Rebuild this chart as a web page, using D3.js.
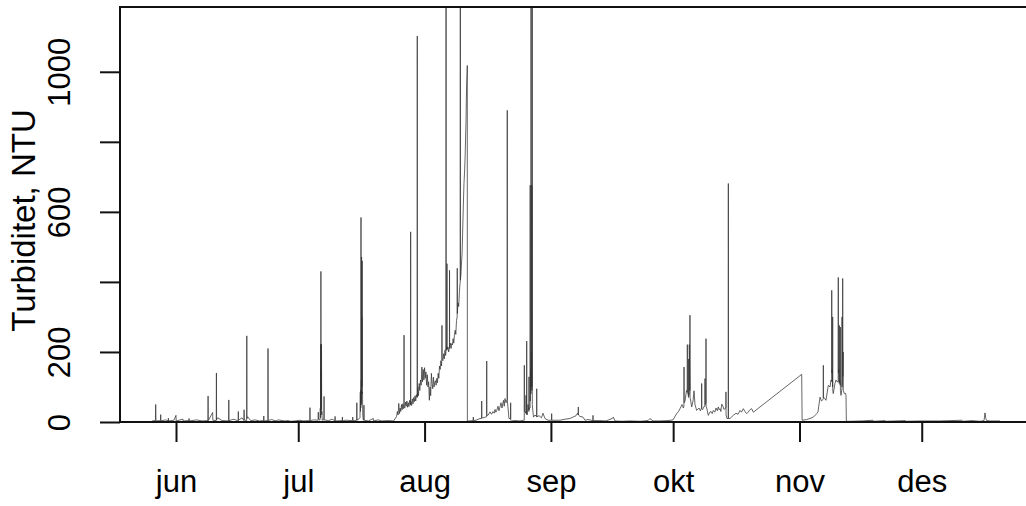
<!DOCTYPE html>
<html>
<head>
<meta charset="utf-8">
<script src="https://cdn.jsdelivr.net/npm/d3@7"></script>
<style>
  body { margin: 0; background: #fff; }
  svg { display: block; }
  text { font-family: "Liberation Sans", Arial, Helvetica, sans-serif; fill: #000; }
</style>
</head>
<body>
<svg id="chart" width="1026" height="506"></svg>
<script>
// Turbidity logger readings (NTU), timestamps as "MM-DD HH:MM"
const year = 2019;

const readingsMayJun = [
  ["05-26 02:00", 3], ["05-26 23:00", 4], ["05-27 00:30", 50], ["05-27 02:00", 3],
  ["05-28 05:00", 4], ["05-28 06:00", 21], ["05-28 07:00", 3], ["05-29 10:00", 6],
  ["05-30 02:00", 3], ["05-30 03:00", 11], ["05-30 04:00", 3], ["05-31 12:00", 5],
  ["06-01 00:00", 19], ["06-01 01:00", 3], ["06-02 17:00", 8], ["06-02 18:00", 3],
  ["06-04 04:00", 4], ["06-04 05:00", 10], ["06-04 06:00", 3], ["06-06 02:00", 6],
  ["06-07 09:00", 3], ["06-08 20:00", 4], ["06-08 21:00", 74], ["06-08 22:00", 4],
  ["06-10 00:00", 27], ["06-10 01:00", 5], ["06-10 21:00", 4], ["06-10 22:00", 140],
  ["06-10 23:00", 6], ["06-11 06:00", 12], ["06-12 07:00", 4], ["06-13 22:00", 3],
  ["06-13 23:00", 63], ["06-14 00:00", 4], ["06-15 05:00", 8], ["06-16 06:00", 3],
  ["06-16 07:00", 30], ["06-16 08:00", 5], ["06-17 05:00", 12], ["06-17 16:00", 4],
  ["06-17 17:00", 35], ["06-17 18:00", 6], ["06-18 08:00", 4], ["06-18 09:00", 246],
  ["06-18 10:00", 10], ["06-18 14:00", 15], ["06-19 08:00", 4], ["06-20 09:00", 6],
  ["06-21 12:00", 3], ["06-22 12:00", 4], ["06-22 13:00", 17], ["06-22 14:00", 3],
  ["06-23 13:00", 4], ["06-23 14:00", 210], ["06-23 15:00", 4], ["06-24 10:00", 7],
  ["06-25 13:00", 3], ["06-26 02:00", 6], ["06-27 16:00", 3], ["06-28 12:00", 4],
  ["06-29 04:00", 2], ["06-30 05:00", 3]
];

const readingsJul = [
  ["07-01 10:00", 5], ["07-02 04:00", 3], ["07-03 20:00", 4], ["07-03 21:00", 41],
  ["07-03 22:00", 4], ["07-04 20:00", 6], ["07-05 21:00", 5], ["07-05 22:00", 28],
  ["07-05 23:00", 8], ["07-06 08:00", 5], ["07-06 10:00", 40], ["07-06 11:00", 12],
  ["07-06 12:00", 222], ["07-06 13:00", 30], ["07-06 13:30", 430], ["07-06 14:00", 40],
  ["07-06 15:00", 150], ["07-06 16:00", 35], ["07-06 17:00", 222], ["07-06 18:00", 20],
  ["07-06 19:00", 30], ["07-06 21:00", 5], ["07-07 07:00", 6], ["07-07 08:00", 73],
  ["07-07 09:00", 6], ["07-08 12:00", 4], ["07-09 06:00", 8], ["07-10 00:00", 4],
  ["07-10 01:00", 16], ["07-10 02:00", 3], ["07-11 19:00", 4], ["07-11 20:00", 14],
  ["07-11 21:00", 3], ["07-12 15:00", 5], ["07-14 08:00", 4], ["07-14 09:00", 14],
  ["07-14 10:00", 3], ["07-15 08:00", 5], ["07-15 09:00", 55], ["07-15 10:00", 5],
  ["07-16 00:00", 10], ["07-16 03:30", 12], ["07-16 05:30", 85], ["07-16 06:30", 30],
  ["07-16 07:00", 90], ["07-16 08:00", 40], ["07-16 09:00", 45], ["07-16 09:30", 584],
  ["07-16 10:00", 60], ["07-16 11:30", 120], ["07-16 12:30", 50], ["07-16 13:00", 471],
  ["07-16 14:00", 80], ["07-16 15:00", 300], ["07-16 15:30", 100], ["07-16 16:30", 460],
  ["07-16 17:30", 80], ["07-16 18:30", 85], ["07-16 20:00", 20], ["07-16 23:00", 5],
  ["07-17 02:00", 6], ["07-17 03:00", 48], ["07-17 04:00", 5], ["07-18 06:00", 3],
  ["07-19 10:00", 10], ["07-19 11:00", 3], ["07-20 14:00", 6], ["07-21 12:00", 3],
  ["07-23 00:00", 4], ["07-24 10:00", 3], ["07-25 03:00", 16], ["07-25 08:00", 30],
  ["07-25 12:00", 20], ["07-25 16:00", 53], ["07-25 20:00", 24],
  ["07-26 00:00", 40], ["07-26 04:00", 30], ["07-26 08:00", 50], ["07-26 12:00", 35],
  ["07-26 16:00", 52], ["07-26 20:00", 38], ["07-26 22:30", 40], ["07-26 23:00", 248],
  ["07-26 23:30", 42], ["07-27 04:00", 40], ["07-27 08:00", 57], ["07-27 12:00", 45],
  ["07-27 16:00", 60], ["07-27 20:00", 42], ["07-28 00:00", 55], ["07-28 04:00", 44],
  ["07-28 08:00", 62], ["07-28 12:00", 48], ["07-28 13:30", 50], ["07-28 14:00", 543],
  ["07-28 14:30", 52], ["07-28 16:00", 58], ["07-28 20:00", 47], ["07-29 00:00", 66],
  ["07-29 04:00", 52], ["07-29 08:00", 70], ["07-29 12:00", 58], ["07-29 16:00", 75],
  ["07-29 20:00", 60], ["07-30 00:00", 78], ["07-30 04:30", 70], ["07-30 05:00", 1102],
  ["07-30 05:30", 72], ["07-30 08:00", 100], ["07-30 12:00", 75], ["07-30 16:00", 110],
  ["07-30 20:00", 90], ["07-31 00:00", 120], ["07-31 04:00", 105], ["07-31 08:00", 157],
  ["07-31 12:00", 115], ["07-31 16:00", 150], ["07-31 20:00", 120]
];

const readingsAug = [
  ["08-01 00:00", 155], ["08-01 04:00", 125], ["08-01 08:00", 143], ["08-01 12:00", 105],
  ["08-01 16:00", 135], ["08-01 20:00", 100], ["08-02 00:00", 115], ["08-02 04:00", 62],
  ["08-02 08:00", 100], ["08-02 12:00", 75], ["08-02 16:00", 139], ["08-02 20:00", 110],
  ["08-03 00:00", 95], ["08-03 04:00", 128], ["08-03 08:00", 100], ["08-03 12:00", 114],
  ["08-03 16:00", 118], ["08-03 20:00", 105], ["08-04 00:00", 125], ["08-04 04:00", 112],
  ["08-04 08:00", 139], ["08-04 12:00", 125], ["08-04 16:00", 160], ["08-04 20:00", 150],
  ["08-05 00:00", 175], ["08-05 04:00", 160], ["08-05 06:00", 186], ["08-05 06:30", 276],
  ["08-05 07:00", 180], ["08-05 12:00", 175], ["08-05 16:00", 195], ["08-05 20:00", 180],
  ["08-06 00:00", 205], ["08-06 04:00", 190], ["08-06 06:00", 200], ["08-06 06:30", 1300],
  ["08-06 07:00", 205], ["08-06 10:00", 215], ["08-06 11:30", 205], ["08-06 12:00", 452],
  ["08-06 12:30", 208], ["08-06 18:00", 214], ["08-06 22:00", 200], ["08-07 02:30", 215],
  ["08-07 03:00", 433], ["08-07 03:30", 210], ["08-07 08:00", 225], ["08-07 12:00", 210],
  ["08-07 16:00", 224], ["08-07 20:00", 220], ["08-08 00:00", 238], ["08-08 04:00", 225],
  ["08-08 08:00", 250], ["08-08 12:00", 262], ["08-08 16:00", 250], ["08-08 20:00", 290],
  ["08-09 00:00", 300], ["08-09 00:30", 439], ["08-09 01:00", 310], ["08-09 05:00", 340],
  ["08-09 09:00", 330], ["08-09 13:00", 370], ["08-09 16:30", 395], ["08-09 18:00", 400],
  ["08-09 18:30", 1300], ["08-09 19:00", 405], ["08-09 22:00", 420], ["08-10 02:00", 460],
  ["08-10 05:00", 481], ["08-10 08:00", 540], ["08-10 12:00", 614], ["08-10 16:00", 680],
  ["08-10 20:00", 720], ["08-10 23:00", 760], ["08-11 02:00", 820], ["08-11 04:00", 853],
  ["08-11 06:00", 920], ["08-11 08:00", 967], ["08-11 10:00", 990], ["08-11 11:30", 1018],
  ["08-11 12:00", 3], ["08-12 03:30", 3], ["08-12 22:00", 4], ["08-12 23:00", 14],
  ["08-13 00:00", 4], ["08-13 15:00", 5], ["08-14 14:30", 10], ["08-15 00:00", 10],
  ["08-15 00:30", 60], ["08-15 01:00", 12], ["08-15 08:00", 12], ["08-16 05:30", 15],
  ["08-16 06:00", 174], ["08-16 06:30", 19], ["08-16 13:30", 19], ["08-17 01:30", 29],
  ["08-17 10:00", 22], ["08-17 19:00", 30], ["08-18 02:00", 25], ["08-18 07:00", 36],
  ["08-18 12:00", 28], ["08-18 17:00", 33], ["08-19 00:30", 45], ["08-19 06:00", 32],
  ["08-19 12:00", 43], ["08-19 18:00", 55], ["08-20 00:00", 40], ["08-20 04:00", 52],
  ["08-20 09:00", 62], ["08-20 13:00", 45], ["08-20 17:30", 67], ["08-20 23:30", 55],
  ["08-21 06:30", 65], ["08-21 07:00", 890], ["08-21 07:30", 60], ["08-21 11:30", 40],
  ["08-21 17:00", 10], ["08-22 02:30", 10], ["08-22 03:00", 55], ["08-22 03:30", 5],
  ["08-22 08:00", 3], ["08-23 04:30", 4], ["08-24 10:00", 3], ["08-25 06:30", 5],
  ["08-25 11:00", 5], ["08-25 11:30", 162], ["08-25 12:00", 30], ["08-25 15:30", 30],
  ["08-25 21:00", 25], ["08-25 21:30", 76], ["08-25 22:00", 25], ["08-26 01:00", 22],
  ["08-26 01:30", 231], ["08-26 02:00", 22], ["08-26 05:00", 20], ["08-26 09:00", 50],
  ["08-26 14:30", 30], ["08-26 15:00", 129], ["08-26 15:30", 35], ["08-26 19:00", 40],
  ["08-26 21:30", 40], ["08-26 22:00", 676], ["08-26 22:30", 60], ["08-27 00:30", 150],
  ["08-27 02:30", 80], ["08-27 03:00", 1300], ["08-27 03:30", 100], ["08-27 05:00", 200],
  ["08-27 07:00", 100], ["08-27 07:30", 676], ["08-27 08:00", 90], ["08-27 09:30", 120],
  ["08-27 10:00", 1300], ["08-27 10:30", 50], ["08-27 12:00", 40], ["08-27 17:30", 14],
  ["08-28 02:30", 20], ["08-28 12:00", 15], ["08-28 12:30", 95], ["08-28 13:00", 15],
  ["08-29 02:00", 18], ["08-29 16:30", 12], ["08-30 01:30", 25], ["08-30 13:00", 10],
  ["08-31 07:00", 5]
];

const readingsSep = [
  ["09-01 04:00", 5], ["09-01 04:30", 24], ["09-01 05:00", 5], ["09-02 00:00", 5],
  ["09-03 05:30", 5], ["09-04 11:00", 8], ["09-05 16:30", 10], ["09-06 10:00", 14],
  ["09-07 04:00", 18], ["09-07 12:30", 25], ["09-07 17:00", 20], ["09-07 17:30", 43],
  ["09-07 18:00", 20], ["09-08 03:30", 16], ["09-08 21:00", 14], ["09-09 09:00", 5],
  ["09-10 02:30", 7], ["09-11 07:30", 4], ["09-11 08:00", 19], ["09-11 08:30", 4],
  ["09-13 01:00", 4], ["09-14 12:30", 3], ["09-16 01:30", 10], ["09-16 07:30", 14],
  ["09-16 17:30", 3], ["09-18 10:30", 2], ["09-20 10:00", 3], ["09-22 21:00", 2],
  ["09-24 20:00", 4], ["09-25 07:30", 10], ["09-26 01:30", 3], ["09-27 18:30", 3],
  ["09-29 17:30", 4], ["09-30 23:00", 6]
];

const readingsOct = [
  ["10-01 21:00", 24], ["10-02 07:30", 30], ["10-02 16:30", 38], ["10-03 04:00", 50],
  ["10-03 12:00", 40], ["10-03 15:30", 45], ["10-03 16:00", 157], ["10-03 16:30", 55],
  ["10-03 22:00", 60], ["10-04 06:30", 90], ["10-04 11:00", 85], ["10-04 11:30", 221],
  ["10-04 12:00", 85], ["10-04 15:30", 80], ["10-04 19:00", 70], ["10-04 19:30", 180],
  ["10-04 20:00", 75], ["10-04 22:30", 80], ["10-04 23:00", 221], ["10-05 02:30", 90],
  ["10-05 03:00", 305], ["10-05 03:30", 70], ["10-05 07:30", 60], ["10-05 13:00", 43],
  ["10-05 21:00", 60], ["10-06 03:00", 89], ["10-06 08:30", 50], ["10-06 18:30", 33],
  ["10-07 08:30", 40], ["10-07 16:00", 32], ["10-07 23:30", 40], ["10-08 00:00", 110],
  ["10-08 00:30", 38], ["10-08 05:00", 35], ["10-08 15:00", 45], ["10-08 19:00", 45],
  ["10-08 19:30", 124], ["10-08 20:00", 50], ["10-09 01:00", 55], ["10-09 01:30", 238],
  ["10-09 02:00", 45], ["10-09 05:30", 40], ["10-09 15:00", 19], ["10-10 00:00", 28],
  ["10-10 07:00", 30], ["10-10 14:00", 24], ["10-10 20:30", 33], ["10-11 05:00", 28],
  ["10-11 12:30", 40], ["10-11 20:00", 32], ["10-12 02:00", 43], ["10-12 07:00", 35],
  ["10-12 12:00", 38], ["10-12 17:00", 30], ["10-12 22:00", 51], ["10-13 05:30", 45],
  ["10-13 11:00", 36], ["10-13 17:30", 38], ["10-13 22:30", 40], ["10-13 23:00", 86],
  ["10-13 23:30", 20], ["10-14 05:00", 10], ["10-14 12:30", 10], ["10-14 13:00", 681],
  ["10-14 13:30", 10], ["10-14 17:00", 10], ["10-14 23:00", 10], ["10-15 18:00", 19],
  ["10-16 10:00", 25], ["10-16 22:00", 22], ["10-17 09:30", 33], ["10-17 18:30", 28],
  ["10-18 05:00", 38], ["10-18 15:00", 30], ["10-19 01:00", 24], ["10-19 09:00", 28],
  ["10-19 20:30", 35], ["10-20 06:30", 38], ["10-20 16:00", 28]
];

const readingsNov = [
  ["11-01 13:00", 136], ["11-01 15:30", 5], ["11-02 18:30", 7], ["11-03 14:00", 10],
  ["11-04 09:30", 14], ["11-05 05:30", 24], ["11-05 13:00", 29], ["11-06 01:00", 71],
  ["11-06 09:30", 60], ["11-06 20:00", 65], ["11-06 20:30", 162], ["11-06 21:00", 70],
  ["11-07 00:30", 70], ["11-07 12:00", 62], ["11-08 02:00", 105], ["11-08 12:00", 100],
  ["11-08 17:30", 120], ["11-08 21:30", 115], ["11-08 22:00", 376], ["11-08 22:30", 140],
  ["11-09 00:30", 150], ["11-09 03:00", 100], ["11-09 03:30", 300], ["11-09 04:00", 90],
  ["11-09 07:00", 81], ["11-09 17:00", 110], ["11-09 23:00", 120], ["11-10 05:00", 115],
  ["11-10 12:00", 115], ["11-10 12:30", 413], ["11-10 13:00", 140], ["11-10 15:30", 150],
  ["11-10 18:00", 110], ["11-10 18:30", 276], ["11-10 19:00", 115], ["11-10 21:30", 120],
  ["11-11 00:00", 105], ["11-11 00:30", 271], ["11-11 01:00", 90], ["11-11 04:30", 76],
  ["11-11 10:00", 95], ["11-11 10:30", 300], ["11-11 11:00", 100], ["11-11 14:00", 120],
  ["11-11 14:30", 410], ["11-11 15:00", 130], ["11-11 17:30", 200], ["11-11 18:00", 90],
  ["11-12 00:00", 81], ["11-12 07:00", 82], ["11-12 10:00", 76], ["11-12 12:00", 2],
  ["11-13 09:30", 2], ["11-16 08:00", 3], ["11-19 01:00", 5], ["11-19 07:00", 2],
  ["11-22 00:00", 4], ["11-22 05:30", 2], ["11-26 21:30", 4], ["11-27 03:30", 2],
  ["11-30 19:30", 3]
];

const readingsDec = [
  ["12-05 11:30", 3], ["12-10 19:30", 5], ["12-11 03:00", 2], ["12-13 06:30", 4],
  ["12-15 07:00", 2], ["12-16 07:00", 4], ["12-16 12:30", 26], ["12-16 17:30", 10],
  ["12-16 22:30", 4], ["12-17 18:00", 3], ["12-20 05:00", 3]
];

// Axis definitions
const monthLabels = ["jun", "jul", "aug", "sep", "okt", "nov", "des"];
const monthStarts = ["06-01 00:00", "07-01 00:00", "08-01 00:00", "09-01 00:00",
                     "10-01 00:00", "11-01 00:00", "12-01 00:00"];
const yTicks = [0, 200, 400, 600, 800, 1000];
const yTickLabels = ["0", "200", "", "600", "", "1000"];
const xLimits = ["05-18 06:12", "12-30 00:30"];
const yLimits = [0, 1185];
const yTitle = "Turbiditet, NTU";

const parseTime = d3.utcParse("%Y-%m-%d %H:%M");
const toDate = s => parseTime(`${year}-${s}`);

const series = [].concat(readingsMayJun, readingsJul, readingsAug, readingsSep,
                         readingsOct, readingsNov, readingsDec)
  .map(([t, v]) => ({ t: toDate(t), v }));

const plot = { left: 120, right: 1040, top: 7, bottom: 422 };

const x = d3.scaleUtc()
  .domain(xLimits.map(toDate))
  .range([plot.left, plot.right]);

const y = d3.scaleLinear()
  .domain(yLimits)
  .range([plot.bottom, plot.top]);

const svg = d3.select("#chart");

svg.append("rect")
  .attr("width", 1026).attr("height", 506).attr("fill", "#fff");

svg.append("defs").append("clipPath").attr("id", "plot-clip")
  .append("rect")
  .attr("x", plot.left).attr("y", plot.top)
  .attr("width", plot.right - plot.left).attr("height", plot.bottom - plot.top);

// Time series line
const line = d3.line()
  .x(d => x(d.t))
  .y(d => y(d.v));

svg.append("path")
  .datum(series)
  .attr("clip-path", "url(#plot-clip)")
  .attr("fill", "none")
  .attr("stroke", "#333")
  .attr("stroke-width", 0.75)
  .attr("stroke-linejoin", "round")
  .attr("d", line);

// Plot frame
svg.append("rect")
  .attr("x", plot.left).attr("y", plot.top)
  .attr("width", plot.right - plot.left).attr("height", plot.bottom - plot.top)
  .attr("fill", "none")
  .attr("stroke", "#111")
  .attr("stroke-width", 2);

// Bottom axis: month ticks
const xAxis = d3.axisBottom(x)
  .tickValues(monthStarts.map(toDate))
  .tickFormat((d, i) => monthLabels[i])
  .tickSizeInner(20)
  .tickSizeOuter(0)
  .tickPadding(28);

const gx = svg.append("g")
  .attr("transform", `translate(0,${plot.bottom})`)
  .call(xAxis);
gx.select(".domain").remove();
gx.selectAll(".tick line").attr("stroke", "#111").attr("stroke-width", 2);
gx.selectAll(".tick text")
  .attr("font-size", 31)
  .attr("font-family", "'Liberation Sans', Arial, sans-serif")
  .attr("fill", "#000");

// Left axis: value ticks, labels parallel to the axis
const yAxis = d3.axisLeft(y)
  .tickValues(yTicks)
  .tickFormat((d, i) => yTickLabels[i])
  .tickSizeInner(20)
  .tickSizeOuter(0);

const gy = svg.append("g")
  .attr("transform", `translate(${plot.left},0)`)
  .call(yAxis);
gy.select(".domain").remove();
gy.selectAll(".tick line").attr("stroke", "#111").attr("stroke-width", 2);
gy.selectAll(".tick text")
  .attr("font-size", 31)
  .attr("font-family", "'Liberation Sans', Arial, sans-serif")
  .attr("fill", "#000")
  .attr("x", null).attr("dy", null)
  .attr("text-anchor", "middle")
  .attr("transform", "translate(-50,0) rotate(-90)");

// Axis title
svg.append("text")
  .attr("transform", `translate(35,${(plot.top + plot.bottom) / 2 + 6}) rotate(-90)`)
  .attr("text-anchor", "middle")
  .attr("font-size", 33)
  .text(yTitle);
</script>
</body>
</html>
